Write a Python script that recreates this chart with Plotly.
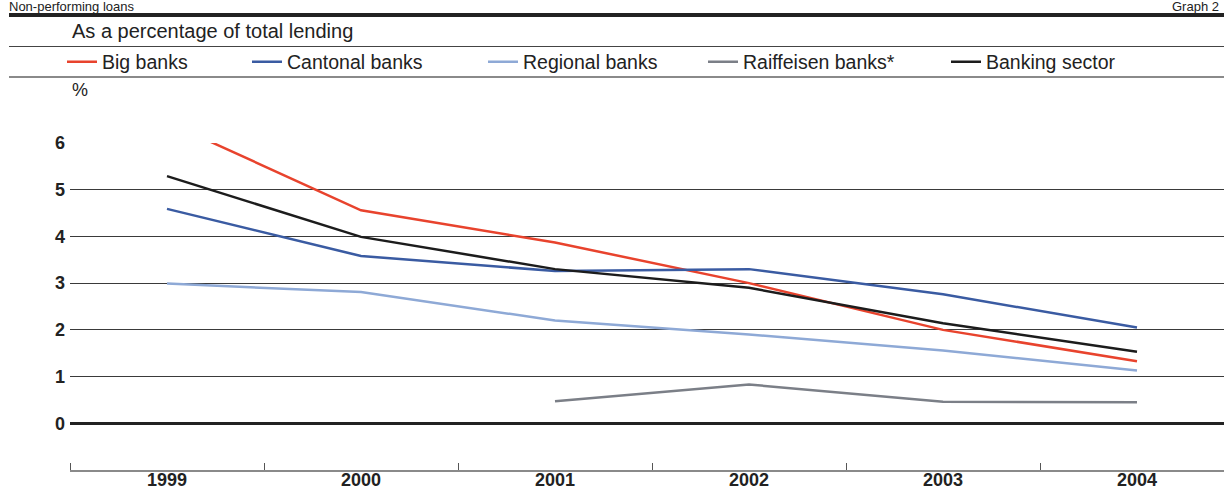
import plotly.graph_objects as go

years = [1999, 2000, 2001, 2002, 2003, 2004]
big_banks = [6.45, 4.56, 3.87, 3.00, 2.00, 1.33]
cantonal_banks = [4.59, 3.58, 3.26, 3.30, 2.76, 2.05]
regional_banks = [2.99, 2.81, 2.20, 1.90, 1.56, 1.13]
raiffeisen_banks = [None, None, 0.47, 0.83, 0.46, 0.45]
banking_sector = [5.29, 3.99, 3.30, 2.90, 2.14, 1.53]
y_ticks = [0, 1, 2, 3, 4, 5, 6]

series = [
    ("Big banks", big_banks, "#E8432D"),
    ("Cantonal banks", cantonal_banks, "#3A5BA2"),
    ("Regional banks", regional_banks, "#8EA9D6"),
    ("Raiffeisen banks*", raiffeisen_banks, "#7B7F87"),
    ("Banking sector", banking_sector, "#1C1C1C"),
]

W, H = 1224, 492
L, R, T, B = 70, 0, 143, 22
pw, ph = W - L - R, H - T - B
FONT = "Liberation Sans"

def px_x(p):
    return (p - L) / pw

def px_y(p):
    return (H - B - p) / ph

legend_text_x = [102, 287, 523, 743, 986]

fig = go.Figure()
for i, (name, vals, col) in enumerate(series):
    lg = "legend" if i == 0 else f"legend{i+1}"
    fig.add_trace(go.Scatter(
        x=years, y=vals, name=name, mode="lines",
        line=dict(color=col, width=2.5),
        legend=lg, showlegend=True, connectgaps=False,
    ))

layout_legends = {}
for i, tx in enumerate(legend_text_x):
    key = "legend" if i == 0 else f"legend{i+1}"
    layout_legends[key] = dict(
        x=px_x(tx - 40), y=px_y(62), xanchor="left", yanchor="middle",
        orientation="h", bgcolor="rgba(0,0,0,0)", borderwidth=0,
        font=dict(family=FONT, size=19.5, color="#222"),
        itemwidth=30, tracegroupgap=0,
    )

x_right = 1998.5 + pw / 194.0

fig.update_layout(
    width=W, height=H,
    margin=dict(l=L, r=R, t=T, b=B, pad=0, autoexpand=False),
    paper_bgcolor="white", plot_bgcolor="white",
    showlegend=True,
    xaxis=dict(
        range=[1998.5, x_right], tickvals=years, ticktext=[str(y) for y in years],
        ticks="", showgrid=False, zeroline=False, automargin=False,
        showline=True, linecolor="#8a8a8a", linewidth=2,
        tickfont=dict(family=FONT, size=18, color="#222", weight="bold"),
        ticklabelstandoff=-8,
        minor=dict(tickvals=[1998.5, 1999.5, 2000.5, 2001.5, 2002.5, 2003.5],
                   ticks="inside", ticklen=7, tickcolor="#555", tickwidth=1, showgrid=False),
        fixedrange=True,
    ),
    yaxis=dict(
        range=[-1, 6], tickvals=y_ticks, ticktext=[str(v) for v in y_ticks],
        showgrid=True, gridcolor="#3a3a3a", gridwidth=1,
        zeroline=True, zerolinecolor="#222", zerolinewidth=3,
        showline=False, ticks="", ticklabelstandoff=4, automargin=False,
        tickfont=dict(family=FONT, size=18, color="#222", weight="bold"),
        fixedrange=True,
    ),
    **layout_legends,
)

# header rules
fig.add_shape(type="rect", xref="paper", yref="paper",
              x0=px_x(9), x1=px_x(W + 5), y0=px_y(17), y1=px_y(13),
              fillcolor="#222", line=dict(width=0))
fig.add_shape(type="line", xref="paper", yref="paper",
              x0=px_x(9), x1=px_x(W + 5), y0=px_y(46.5), y1=px_y(46.5),
              line=dict(color="#444", width=1.2))
fig.add_shape(type="line", xref="paper", yref="paper",
              x0=px_x(9), x1=px_x(W + 5), y0=px_y(77), y1=px_y(77),
              line=dict(color="#8a8a8a", width=2))

fig.add_annotation(text="Non-performing loans", xref="paper", yref="paper",
                   x=px_x(8), y=px_y(6), xanchor="left", yanchor="middle",
                   showarrow=False, borderpad=0,
                   font=dict(family=FONT, size=13, color="#222"))
fig.add_annotation(text="Graph 2", xref="paper", yref="paper",
                   x=px_x(1220), y=px_y(6), xanchor="right", yanchor="middle",
                   showarrow=False, borderpad=0,
                   font=dict(family=FONT, size=13, color="#222"))
fig.add_annotation(text="As a percentage of total lending", xref="paper", yref="paper",
                   x=px_x(70), y=px_y(31), xanchor="left", yanchor="middle",
                   showarrow=False, font=dict(family=FONT, size=20, color="#222"))
fig.add_annotation(text="%", xref="paper", yref="paper",
                   x=px_x(70), y=px_y(90), xanchor="left", yanchor="middle",
                   showarrow=False, font=dict(family=FONT, size=18, color="#222"))

fig.write_html("out.html")
